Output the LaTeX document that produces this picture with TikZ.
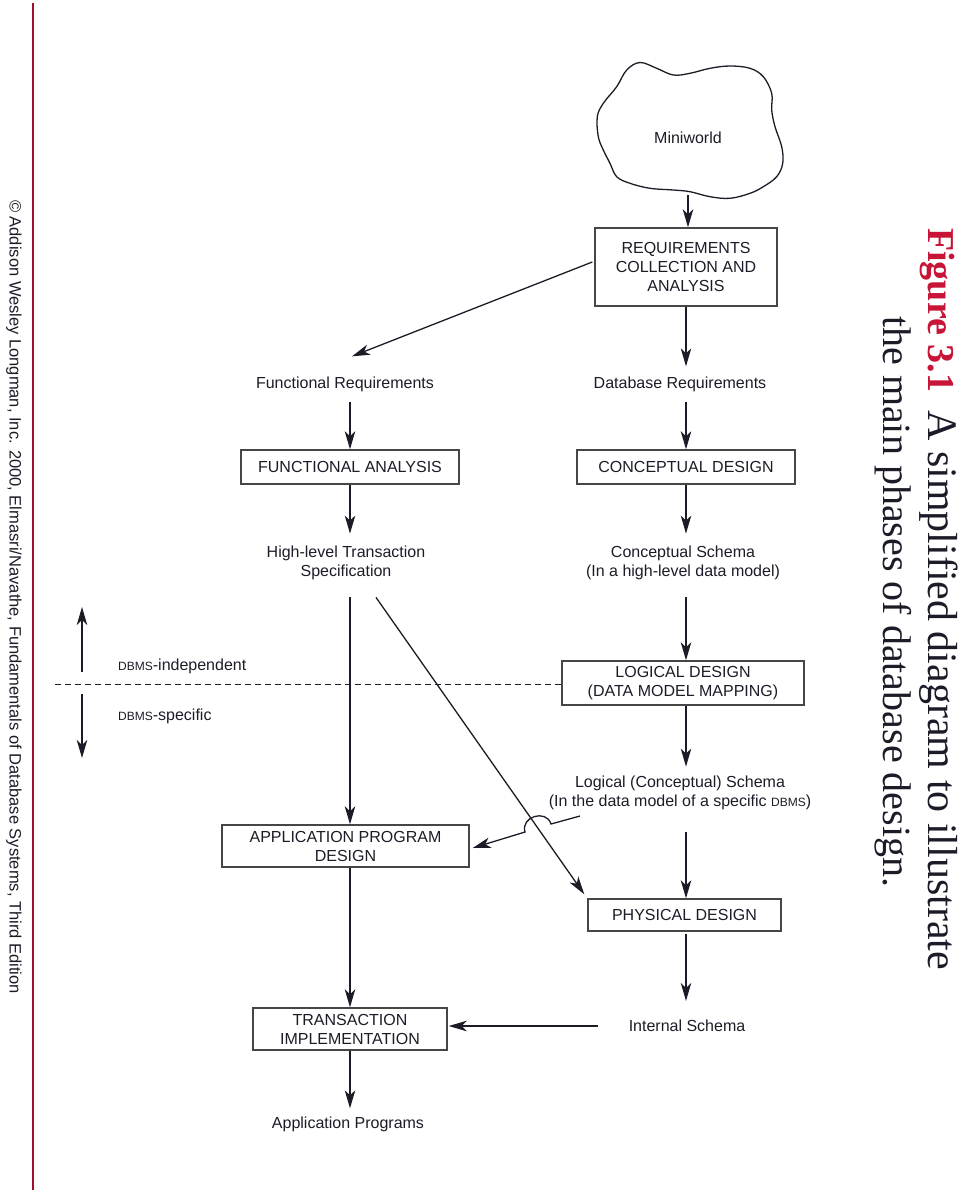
\documentclass[tikz,border=0pt]{standalone}
\usepackage{fontspec}
\setmainfont{Liberation Sans}
\newfontfamily\serifT{Liberation Serif}
\usetikzlibrary{arrows.meta,calc}
\definecolor{ink}{RGB}{28,28,40}
\definecolor{figred}{RGB}{200,20,55}
\definecolor{boxline}{RGB}{70,70,70}
\newcommand{\dbmsc}{{\fontsize{12}{12}\selectfont DBMS}}
\begin{document}
\begin{tikzpicture}[x=1pt,y=-1pt,
  lbl/.style={font=\fontsize{16}{19.5}\selectfont, align=center, inner sep=0pt, text=ink},
  box/.style={draw=boxline, line width=1.4pt, font=\fontsize{16}{19}\selectfont, align=center, inner sep=0pt, text=ink},
  arr/.style={draw=ink, line width=1.3pt, -{Stealth[length=18pt,width=10.5pt,inset=5pt]}},
  vtitle/.style={rotate=-90, anchor=base west, inner sep=0pt},
]
\useasboundingbox (0,0) rectangle (960,1192);

% left rule and copyright
\draw[figred!80!black, line width=2.2pt] (33,3) -- (33,1190);
\node[rotate=-90, inner sep=0pt, font=\fontsize{16.5}{16.5}\selectfont, text=ink] (copy) at (14,597)
  {© Addison Wesley Longman, Inc. 2000, Elmasri/Navathe, Fundamentals of Database Systems, Third Edition};

% title
\node[vtitle, font=\serifT\bfseries\fontsize{38}{38}\selectfont, text=figred] (fig) at (928,228) {Figure 3.1};
\node[vtitle, font=\serifT\fontsize{42}{42}\selectfont, text=ink] (t1) at (928,410) {A simplified diagram to illustrate};
\node[vtitle, font=\serifT\fontsize{40}{40}\selectfont, text=ink] (t2) at (883,316) {the main phases of database design.};

% cloud
\draw[ink, line width=1.3pt] plot[smooth cycle, tension=0.6] coordinates {
 (640,62.5) (656.7,68.3) (673.3,75) (690,73.3) (710,68.3) (730,66) (750,68.3)
 (763.3,76.7) (771.7,93.3) (771.7,110) (775,126.7) (781.7,146.7) (782.7,163.3)
 (776.7,176.7) (763.3,186.7) (750,193.3) (730,198.3) (710,196.7) (690,191.7)
 (673.3,190) (650,188.3) (630,183.3) (616.7,176.7) (610,163.3) (603.3,150)
 (598.3,136.7) (597.3,116.7) (603.3,103.3) (616.7,86.7) (626.7,70)};
\node[lbl] (mw) at (688,138) {Miniworld};
\coordinate (cb) at (688,195);

% boxes
\node[box, minimum width=182, minimum height=78] (req) at (686,267) {REQUIREMENTS\\COLLECTION AND\\ANALYSIS};
\node[box, minimum width=218, minimum height=34] (fa) at (350,467) {FUNCTIONAL ANALYSIS};
\node[box, minimum width=218, minimum height=34] (cd) at (686,467) {CONCEPTUAL DESIGN};
\node[box, minimum width=242, minimum height=44] (ld) at (683,683) {LOGICAL DESIGN\\(DATA MODEL MAPPING)};
\node[box, minimum width=247, minimum height=42] (apd) at (345.5,846) {APPLICATION PROGRAM\\DESIGN};
\node[box, minimum width=193, minimum height=32] (pd) at (684.5,915) {PHYSICAL DESIGN};
\node[box, minimum width=194, minimum height=42] (ti) at (350,1029) {TRANSACTION\\IMPLEMENTATION};

% text labels
\node[lbl] (fr) at (345,384) {Functional Requirements};
\node[lbl] (dr) at (680,384) {Database Requirements};
\node[lbl] (hl) at (346,563) {High-level Transaction\\Specification};
\node[lbl] (cs) at (683,563) {Conceptual Schema\\(In a high-level data model)};
\node[lbl] (ls) at (680,793) {Logical (Conceptual) Schema\\(In the data model of a specific \dbmsc)};
\node[lbl] (is) at (687,1026) {Internal Schema};
\node[lbl] (ap) at (348,1124) {Application Programs};
\node[lbl, anchor=west] (dbi) at (118,666) {\dbmsc-independent};
\node[lbl, anchor=west] (dbs) at (118,716) {\dbmsc-specific};

% dashed boundary
\coordinate (dl) at (55,684);
\draw[ink, line width=0.9pt, dash pattern=on 6pt off 4pt] (dl) -- (dl -| ld.west);
\coordinate (u0) at (82,672);
\coordinate (u1) at (82,607);
\coordinate (d0) at (82,694);
\coordinate (d1) at (82,758);
\draw[arr] (u0) -- (u1);
\draw[arr] (d0) -- (d1);

% connectors
\draw[arr] (cb) -- (cb |- req.north);
\draw[arr] (req.south) -- ($(dr.north)+(6,-10)$);
\draw[arr] ($(req.west)+(-2,-5)$) -- ($(fr.north)+(7,-20)$);
\draw[arr] ($(fr.south)+(5,10)$) -- (fa.north);
\draw[arr] ($(dr.south)+(6,10)$) -- (cd.north);
\draw[arr] (fa.south) -- ($(hl.north)+(4,-12)$);
\draw[arr] (cd.south) -- ($(cs.north)+(3,-12)$);
\draw[arr] ($(hl.south)+(4,17)$) -- ($(apd.north)+(4.5,0)$);
\draw[arr] ($(cs.south)+(3,17)$) -- ($(ld.north)+(3,0)$);
\draw[arr] ($(ld.south)+(3,0)$) -- ($(ls.north)+(6,-9)$);
\draw[arr] ($(ls.south)+(6,22)$) -- ($(pd.north)+(1.5,0)$);
\draw[arr] ($(pd.south)+(1.5,2)$) -- ($(is.north)+(-1,-19)$);
\draw[arr] ($(is.west)+(-31,0)$) -- ($(ti.east)+(1,-3)$);
\draw[arr] ($(apd.south)+(4.5,0)$) -- (ti.north);
\draw[arr] (ti.south) -- ($(ap.north)+(2,-8)$);
\draw[arr] ($(hl.south)+(30,17)$) -- ($(pd.north west)+(-3,-4)$);

% connector with hop over the diagonal
\coordinate (h0) at (580,816);
\coordinate (h1) at (551,824);
\coordinate (h2) at (525,832);
\draw[arr] (h0) -- (h1) .. controls (546.3,808.7) and (520.3,816.7) .. (h2) -- ($(apd.east)+(3,2)$);
\end{tikzpicture}
\end{document}
